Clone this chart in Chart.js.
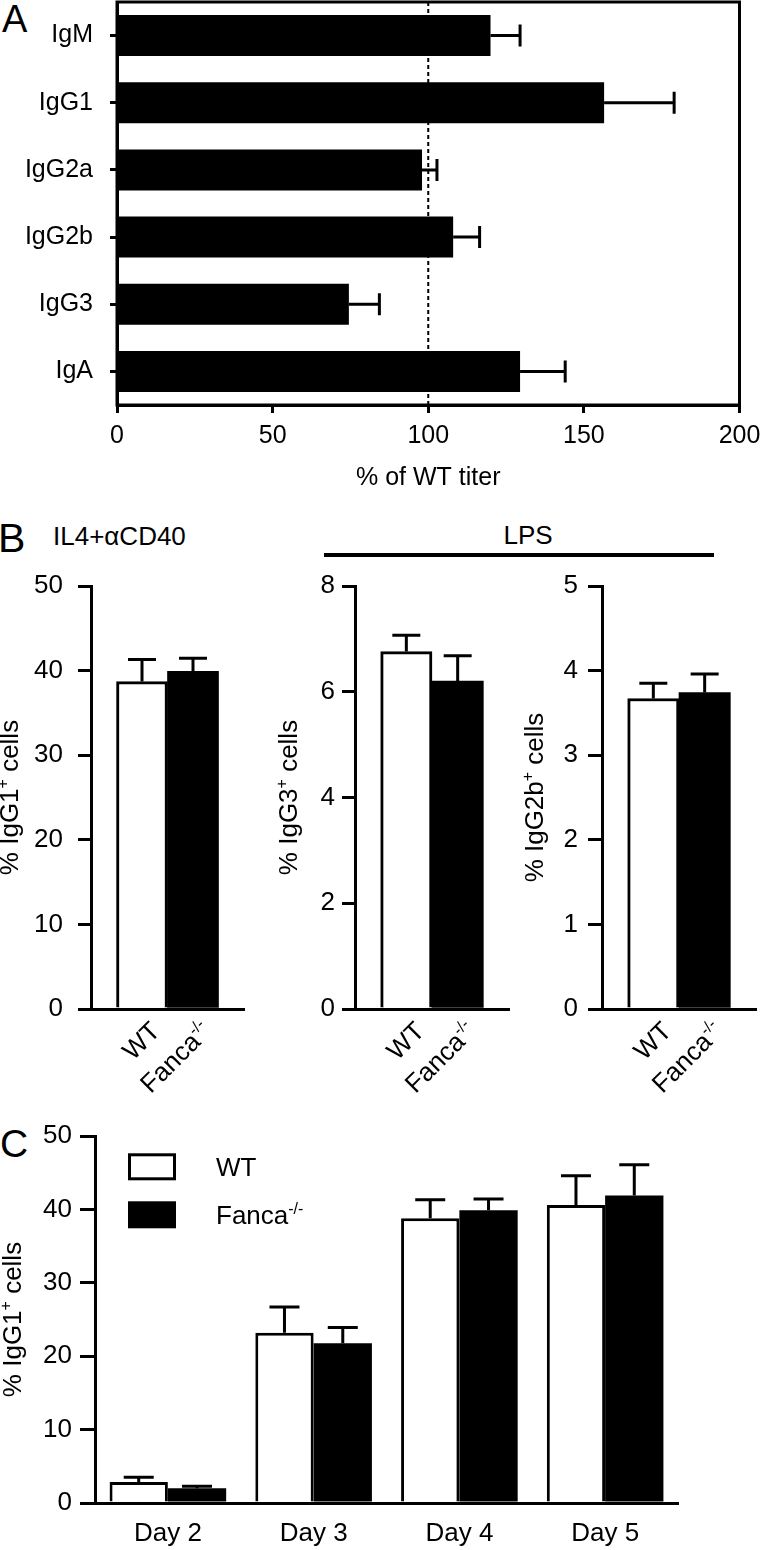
<!DOCTYPE html>
<html>
<head>
<meta charset="utf-8">
<script src="https://cdn.jsdelivr.net/npm/chart.js@4.4.0/dist/chart.umd.min.js"></script>
<style>
  body { margin: 0; background: #fff; width: 762px; height: 1550px; position: relative; overflow: hidden;
         font-family: "Liberation Sans", Arial, Helvetica, sans-serif; color: #000; }
  canvas { position: absolute; left: 0; }
  .txt { position: absolute; line-height: 1; white-space: nowrap; }
</style>
</head>
<body>
<div class="txt" style="left:2px;top:0px;font-size:38px">A</div>
<div class="txt" style="left:-2px;top:518px;font-size:41px">B</div>
<div class="txt" style="left:0px;top:1124px;font-size:39px">C</div>
<div class="txt" style="left:53px;top:523px;font-size:26px">IL4+αCD40</div>
<div class="txt" style="left:428px;width:200px;text-align:center;top:522px;font-size:26px">LPS</div>
<div style="position:absolute;left:324px;top:553px;width:390px;height:4px;background:#000"></div>

<canvas id="chartA" width="762" height="500" style="top:0px"></canvas>
<canvas id="chartB1" width="762" height="540" style="top:560px"></canvas>
<canvas id="chartB2" width="762" height="540" style="top:560px"></canvas>
<canvas id="chartB3" width="762" height="540" style="top:560px"></canvas>
<canvas id="chartC" width="762" height="450" style="top:1100px"></canvas>

<script>
// ---- data: panel A (serum titers) ----
const isotypes = ['IgM', 'IgG1', 'IgG2a', 'IgG2b', 'IgG3', 'IgA'];
const titerPct = [120, 156.5, 98, 108, 74.5, 129.5];
const titerErr = [9.5, 22.5, 4.8, 8.5, 9.8, 14.5];
const titerTicks = [0, 50, 100, 150, 200];
const wtLevel = 100;

// ---- data: panel B (in vitro switching) ----
const genotypes = ['WT', 'Fanca^{-/-}'];
const il4IgG1 = [38.7, 39.9];
const il4IgG1Err = [2.6, 1.55];
const il4Ticks = [0, 10, 20, 30, 40, 50];
const lpsIgG3 = [6.76, 6.2];
const lpsIgG3Err = [0.31, 0.48];
const lpsIgG3Ticks = [0, 2, 4, 6, 8];
const lpsIgG2b = [3.67, 3.74];
const lpsIgG2bErr = [0.18, 0.22];
const lpsIgG2bTicks = [0, 1, 2, 3, 4, 5];

// ---- data: panel C (time course) ----
const days = ['Day 2', 'Day 3', 'Day 4', 'Day 5'];
const wtDays = [2.85, 23.2, 38.8, 40.6];
const wtDaysErr = [0.65, 3.5, 2.5, 4.0];
const fancaDays = [2.0, 21.75, 39.9, 41.9];
const fancaDaysErr = [0.28, 2.15, 1.5, 4.2];
const cTicks = [0, 10, 20, 30, 40, 50];

const FONT = '"Liberation Sans", Arial, Helvetica, sans-serif';
const W = 762;
Chart.defaults.font.family = FONT;
Chart.defaults.color = '#000';
Chart.defaults.animation = false;
Chart.defaults.plugins.legend.display = false;
Chart.defaults.plugins.tooltip.enabled = false;

// text with ^{...} superscripts, y = middle of the caps
function drawRich(ctx, s, size, x, y, align, angle) {
  const parts = [];
  const re = /\^\{([^}]*)\}/g;
  let last = 0, m;
  while ((m = re.exec(s))) {
    if (m.index > last) parts.push({t: s.slice(last, m.index)});
    parts.push({t: m[1], sup: true});
    last = re.lastIndex;
  }
  if (last < s.length) parts.push({t: s.slice(last)});
  const supSize = Math.round(size * 0.6);
  ctx.save();
  ctx.translate(x, y);
  ctx.rotate(angle || 0);
  ctx.fillStyle = '#000';
  ctx.textAlign = 'left';
  ctx.textBaseline = 'alphabetic';
  let w = 0;
  parts.forEach(p => { ctx.font = (p.sup ? supSize : size) + 'px ' + FONT; p.w = ctx.measureText(p.t).width; w += p.w; });
  let cx = align === 'center' ? -w / 2 : align === 'right' ? -w : 0;
  const base = size * 0.358;
  parts.forEach(p => {
    ctx.font = (p.sup ? supSize : size) + 'px ' + FONT;
    ctx.fillText(p.t, cx, p.sup ? base - size * 0.4 : base);
    cx += p.w;
  });
  ctx.restore();
}

// error bars (one-sided, away from the base)
const errorBars = {
  id: 'errorBars',
  afterDatasetsDraw(chart) {
    const ctx = chart.ctx;
    const horiz = chart.options.indexAxis === 'y';
    const vScale = horiz ? chart.scales.x : chart.scales.y;
    chart.data.datasets.forEach((ds, di) => {
      const meta = chart.getDatasetMeta(di);
      meta.data.forEach((bar, i) => {
        const v = ds.data[i], e = ds.err ? ds.err[i] : null;
        if (v == null || !e) return;
        const end = vScale.getPixelForValue(v + e);
        const c = ds.capSize / 2;
        ctx.save();
        ctx.strokeStyle = '#000';
        ctx.lineWidth = 3;
        ctx.beginPath();
        if (horiz) {
          ctx.moveTo(bar.x, bar.y); ctx.lineTo(end, bar.y);
          ctx.moveTo(end, bar.y - c); ctx.lineTo(end, bar.y + c);
        } else {
          ctx.moveTo(bar.x, bar.y); ctx.lineTo(bar.x, end);
          ctx.moveTo(bar.x - c, end); ctx.lineTo(bar.x + c, end);
        }
        ctx.stroke();
        ctx.restore();
      });
    });
  }
};

// panel A: dotted 100% line and the closed frame
const frameA = {
  id: 'frameA',
  beforeDatasetsDraw(chart) {
    const {ctx, chartArea: a, scales: {x}} = chart;
    const px = x.getPixelForValue(wtLevel);
    ctx.save();
    ctx.setLineDash([4, 3]);
    ctx.lineWidth = 2;
    ctx.strokeStyle = '#000';
    ctx.beginPath(); ctx.moveTo(px, a.top); ctx.lineTo(px, a.bottom); ctx.stroke();
    ctx.restore();
  },
  afterDraw(chart) {
    const {ctx, chartArea: a} = chart;
    ctx.save();
    ctx.lineWidth = 3;
    ctx.strokeStyle = '#000';
    ctx.strokeRect(a.left, a.top, a.right - a.left, a.bottom - a.top);
    ctx.restore();
  }
};

// rotated y-axis title with superscript
const yTitle = {
  id: 'yTitle',
  afterDraw(chart, args, opts) {
    const a = chart.chartArea;
    drawRich(chart.ctx, opts.text, 26, opts.x, (a.top + a.bottom) / 2, 'center', -Math.PI / 2);
  }
};

// 45 degree genotype labels under the panel B bars
const genoLabels = {
  id: 'genoLabels',
  afterDraw(chart) {
    const x = chart.scales.x, a = chart.chartArea;
    genotypes.forEach((g, i) => {
      drawRich(chart.ctx, g, 26, x.getPixelForValue(i + 1) + 13, a.bottom + 17, 'right', -Math.PI / 4);
    });
  }
};

// legend inside panel C
const legendC = {
  id: 'legendC',
  afterDraw(chart) {
    const {ctx, chartArea: a} = chart;
    chart.data.datasets.forEach((ds, i) => {
      const bx = a.left + 34.5, by = a.top + 18.8 + i * 48, bw = 45, bh = 24;
      ctx.save();
      ctx.fillStyle = ds.backgroundColor;
      ctx.fillRect(bx, by, bw, bh);
      ctx.lineWidth = 3;
      ctx.strokeStyle = '#000';
      ctx.strokeRect(bx, by, bw, bh);
      ctx.restore();
      drawRich(ctx, ds.label, 26, a.left + 121, by + bh / 2, 'left', 0);
    });
  }
};

// keep tick labels from pushing the plot area around
function noPad(s) { s.paddingTop = 0; s.paddingBottom = 0; s.paddingLeft = 0; s.paddingRight = 0; }

function valueAxis(ticks, tickLen, pad, yw) {
  return {
    min: ticks[0], max: ticks[ticks.length - 1],
    afterBuildTicks(s) { s.ticks = ticks.map(v => ({value: v})); },
    ticks: {font: {size: 26}, padding: pad, color: '#000'},
    grid: {drawOnChartArea: false, color: '#000', lineWidth: 3, tickLength: tickLen},
    border: {color: '#000', width: 3},
    afterFit(s) { s.width = yw; noPad(s); }
  };
}

//Render panel A
new Chart(document.getElementById('chartA'), {
  type: 'bar',
  data: {
    labels: isotypes,
    datasets: [{data: titerPct, err: titerErr, capSize: 22, backgroundColor: '#000', borderWidth: 0,
                barPercentage: 0.61, categoryPercentage: 1}]
  },
  options: {
    indexAxis: 'y',
    responsive: false,
    layout: {padding: {left: 0, right: W - 739.5, top: 2, bottom: 0}},
    scales: {
      x: {
        min: 0, max: 200, z: 1,
        afterBuildTicks(s) { s.ticks = titerTicks.map(v => ({value: v})); },
        ticks: {font: {size: 25}, padding: 8, color: '#000'},
        grid: {drawOnChartArea: false, color: '#000', lineWidth: 3, tickLength: 8},
        border: {color: '#000', width: 3},
        title: {display: true, text: '% of WT titer', font: {size: 25}, color: '#000', padding: {top: 0, bottom: 7}},
        afterFit(s) { s.height = 95; noPad(s); }
      },
      y: {
        z: 1,
        grid: {offset: false, drawOnChartArea: false, color: '#000', lineWidth: 3, tickLength: 7},
        ticks: {font: {size: 25}, padding: 17, color: '#000'},
        border: {color: '#000', width: 3},
        afterFit(s) { s.width = 117; noPad(s); }
      }
    }
  },
  plugins: [frameA, errorBars]
});

//Render panel B (three small charts)
const B_TOP = 560, B_H = 540, B_XH = 90, B_YW = 80;
function makeB(id, values, errs, ticks, area, tickLen, pad, title, titleX) {
  new Chart(document.getElementById(id), {
    type: 'bar',
    data: {
      labels: ['', ...genotypes, ''],
      datasets: [{
        data: [null, ...values, null], err: [null, ...errs, null], capSize: 28,
        backgroundColor: ['#fff', '#fff', '#000', '#000'], borderColor: '#000', borderWidth: [3, 3, 0, 0],
        barPercentage: 1, categoryPercentage: 1
      }]
    },
    options: {
      responsive: false,
      layout: {padding: {left: area.left - B_YW, right: W - area.right, top: area.top - B_TOP,
                         bottom: B_TOP + B_H - area.bottom - B_XH}},
      scales: {
        x: {offset: false, z: 1, ticks: {display: false}, grid: {display: false},
            border: {color: '#000', width: 3}, afterFit(s) { s.height = B_XH; noPad(s); }},
        y: valueAxis(ticks, tickLen, pad, B_YW)
      },
      plugins: {yTitle: {text: title, x: titleX}}
    },
    plugins: [errorBars, genoLabels, yTitle]
  });
}
makeB('chartB1', il4IgG1, il4IgG1Err, il4Ticks, {left: 91, right: 244, top: 586, bottom: 1009}, 13, 15, '% IgG1^{+} cells', 9);
makeB('chartB2', lpsIgG3, lpsIgG3Err, lpsIgG3Ticks, {left: 355, right: 509, top: 586, bottom: 1009}, 13, 7, '% IgG3^{+} cells', 288);
makeB('chartB3', lpsIgG2b, lpsIgG2bErr, lpsIgG2bTicks, {left: 602, right: 756, top: 586, bottom: 1009}, 14, 10, '% IgG2b^{+} cells', 534);

//Render panel C
new Chart(document.getElementById('chartC'), {
  type: 'bar',
  data: {
    labels: days,
    datasets: [
      {label: 'WT', data: wtDays, err: wtDaysErr, capSize: 30, backgroundColor: '#fff', borderColor: '#000',
       borderWidth: 3, barPercentage: 1, categoryPercentage: 0.8},
      {label: 'Fanca^{-/-}', data: fancaDays, err: fancaDaysErr, capSize: 30, backgroundColor: '#000', borderColor: '#000',
       borderWidth: 0, barPercentage: 1, categoryPercentage: 0.8}
    ]
  },
  options: {
    responsive: false,
    layout: {padding: {left: 0, right: W - 678, top: 36, bottom: 0}},
    scales: {
      x: {z: 1, grid: {display: false, drawTicks: false}, border: {color: '#000', width: 3},
          ticks: {font: {size: 26}, padding: 15, color: '#000'}, afterFit(s) { s.height = 47; noPad(s); }},
      y: valueAxis(cTicks, 15, 8, 95)
    },
    plugins: {yTitle: {text: '% IgG1^{+} cells', x: 12}}
  },
  plugins: [errorBars, legendC, yTitle]
});
</script>
</body>
</html>
